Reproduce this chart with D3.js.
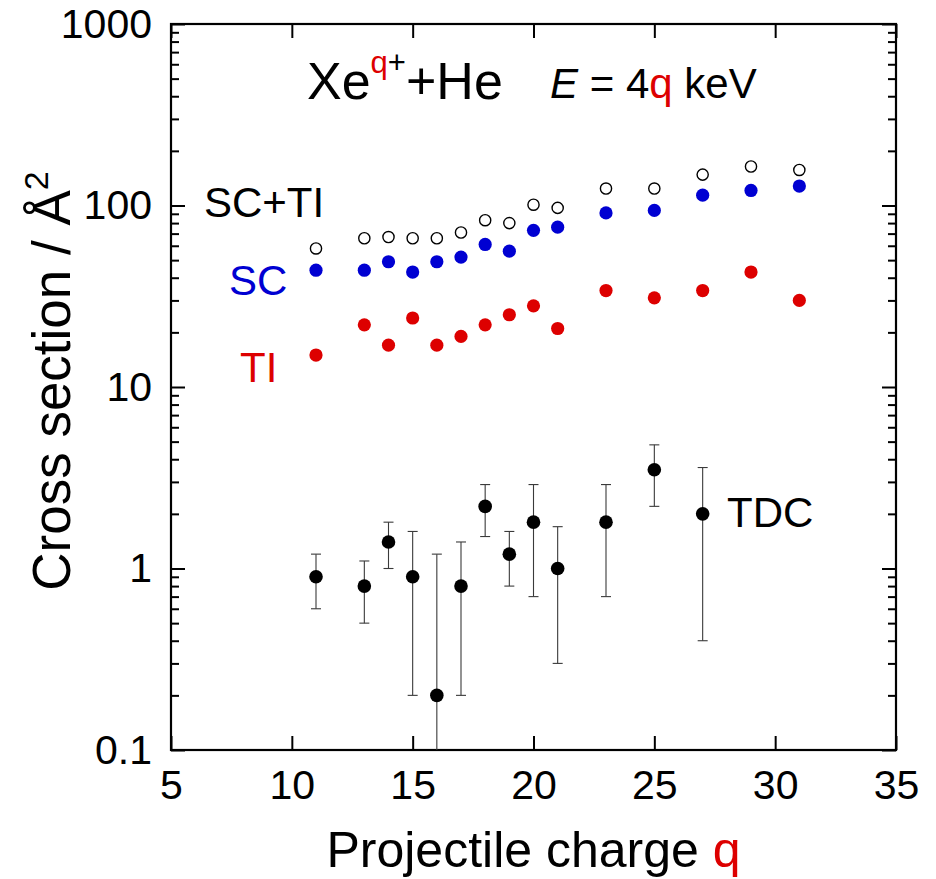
<!DOCTYPE html>
<html>
<head>
<meta charset="utf-8">
<script src="https://cdn.jsdelivr.net/npm/d3@7"></script>
<style>
  html, body { margin: 0; padding: 0; background: #fff; }
  svg text { font-family: "Liberation Sans", Arial, Helvetica, sans-serif; }
</style>
</head>
<body>
<svg id="chart" width="936" height="879"></svg>
<script>
// ---- data ----
const qValues   = [11, 13, 14, 15, 16, 17, 18, 19, 20, 21, 23, 25, 27, 29, 31];
const scPlusTi  = [58, 66, 67, 66, 66, 71, 83, 80, 101, 97, 124, 124, 148, 164, 157];
const scValues  = [44, 44, 49, 43, 49, 52, 61, 56, 73, 76, 91, 94, 114, 121, 128];
const tiValues  = [15, 22, 17, 24, 17, 19, 22, 25, 28, 21, 34, 31, 34, 43, 30];

const tdcQ      = [11, 13, 14, 15, 16, 17, 18, 19, 20, 21, 23, 25, 27];
const tdcValues = [0.9, 0.8, 1.4, 0.9, 0.2, 0.8, 2.2, 1.2, 1.8, 1.0, 1.8, 3.5, 2.0];
const tdcHigh   = [1.2, 1.1, 1.8, 1.6, 1.2, 1.4, 2.9, 1.6, 2.9, 1.7, 2.9, 4.8, 3.6];
const tdcLow    = [0.6, 0.5, 1.0, 0.2, 0.05, 0.2, 1.5, 0.8, 0.7, 0.3, 0.7, 2.2, 0.4];

const xTicks = [5, 10, 15, 20, 25, 30, 35];
const yTicks = [0.1, 1, 10, 100, 1000];
const yTickLabels = ["0.1", "1", "10", "100", "1000"];

// ---- layout ----
const svg = d3.select("#chart");
const L = 171, R = 896, T = 24, B = 750;
const x = d3.scaleLinear().domain([5, 35]).range([L, R]);
const y = d3.scaleLog().domain([0.1, 1000]).range([B, T]);

const RED = "#dd0000", BLUE = "#0000d2";

// minor y ticks
const yMinor = [];
for (let e = -1; e < 3; e++) for (let m = 2; m <= 9; m++) yMinor.push(m * Math.pow(10, e));

// clip
svg.append("clipPath").attr("id", "plotclip")
  .append("rect").attr("x", L).attr("y", T).attr("width", R - L).attr("height", B - T);

// axes
const styleAxis = g => {
  g.select(".domain").remove();
  g.selectAll(".tick line").attr("stroke", "#000").attr("stroke-width", 2);
  g.selectAll("text").attr("fill", "#000").style("font-family", '"Liberation Sans", Arial, sans-serif');
};

svg.append("g").attr("transform", `translate(0,${B})`)
  .call(d3.axisBottom(x).tickValues(xTicks).tickSize(-14).tickPadding(20).tickFormat(d3.format("d")))
  .call(styleAxis)
  .selectAll("text").style("font-size", "41px");

svg.append("g").attr("transform", `translate(0,${T})`)
  .call(d3.axisTop(x).tickValues(xTicks).tickSize(-14).tickFormat(""))
  .call(styleAxis);

svg.append("g").attr("transform", `translate(${L},0)`)
  .call(d3.axisLeft(y).tickValues(yTicks).tickSize(-14).tickPadding(19)
        .tickFormat((d, i) => yTickLabels[i]))
  .call(styleAxis)
  .selectAll("text").style("font-size", "41px");

svg.append("g").attr("transform", `translate(${L},0)`)
  .call(d3.axisLeft(y).tickValues(yMinor).tickSize(-8).tickFormat(""))
  .call(styleAxis);

svg.append("g").attr("transform", `translate(${R},0)`)
  .call(d3.axisRight(y).tickValues(yTicks).tickSize(-14).tickFormat(""))
  .call(styleAxis);

svg.append("g").attr("transform", `translate(${R},0)`)
  .call(d3.axisRight(y).tickValues(yMinor).tickSize(-8).tickFormat(""))
  .call(styleAxis);

// frame
svg.append("rect").attr("x", L).attr("y", T).attr("width", R - L).attr("height", B - T)
  .attr("fill", "none").attr("stroke", "#000").attr("stroke-width", 2.2);

// error bars
const plot = svg.append("g").attr("clip-path", "url(#plotclip)");
const eb = plot.append("g").attr("stroke", "#3a3a3a").attr("stroke-width", 1.1);
tdcQ.forEach((q, i) => {
  eb.append("line").attr("x1", x(q)).attr("x2", x(q)).attr("y1", y(tdcLow[i])).attr("y2", y(tdcHigh[i]));
  eb.append("line").attr("x1", x(q) - 5).attr("x2", x(q) + 5).attr("y1", y(tdcHigh[i])).attr("y2", y(tdcHigh[i]));
  if (y(tdcLow[i]) < B) eb.append("line").attr("x1", x(q) - 5).attr("x2", x(q) + 5).attr("y1", y(tdcLow[i])).attr("y2", y(tdcLow[i]));
});

// points
plot.append("g").selectAll("circle").data(qValues).join("circle")
  .attr("cx", d => x(d)).attr("cy", (d, i) => y(scPlusTi[i])).attr("r", 5.6)
  .attr("fill", "#fff").attr("stroke", "#000").attr("stroke-width", 1.4);
plot.append("g").selectAll("circle").data(qValues).join("circle")
  .attr("cx", d => x(d)).attr("cy", (d, i) => y(scValues[i])).attr("r", 6.6).attr("fill", BLUE);
plot.append("g").selectAll("circle").data(qValues).join("circle")
  .attr("cx", d => x(d)).attr("cy", (d, i) => y(tiValues[i])).attr("r", 6.6).attr("fill", RED);
plot.append("g").selectAll("circle").data(tdcQ).join("circle")
  .attr("cx", d => x(d)).attr("cy", (d, i) => y(tdcValues[i])).attr("r", 6.8).attr("fill", "#000");

// series labels
const lab = (t, px, py, col, size) => svg.append("text").attr("x", px).attr("y", py)
  .attr("fill", col).style("font-size", size + "px").text(t);
lab("SC+TI", 204, 217, "#000", 42);
lab("SC", 229, 295, BLUE, 42);
lab("TI", 240, 382, RED, 42);
lab("TDC", 727, 527, "#000", 42);

// title
const t1 = svg.append("text").attr("x", 307).attr("y", 99).style("font-size", "52px").attr("fill", "#000");
t1.append("tspan").text("Xe");
t1.append("tspan").attr("dy", -26).style("font-size", "31px").attr("fill", RED).text("q");
t1.append("tspan").style("font-size", "31px").text("+");
t1.append("tspan").attr("dy", 26).text("+He");

const t2 = svg.append("text").attr("x", 550).attr("y", 98).style("font-size", "42px").attr("fill", "#000");
t2.append("tspan").style("font-style", "italic").text("E");
t2.append("tspan").text(" = 4");
t2.append("tspan").attr("fill", RED).text("q");
t2.append("tspan").text(" keV");

// axis titles
const xt = svg.append("text").attr("x", (L + R) / 2).attr("y", 867).attr("text-anchor", "middle")
  .style("font-size", "50px").attr("fill", "#000");
xt.append("tspan").text("Projectile charge ");
xt.append("tspan").attr("fill", RED).text("q");

const yt = svg.append("text").attr("transform", `translate(70,${(T + B) / 2 - 6}) rotate(-90)`)
  .attr("text-anchor", "middle").style("font-size", "53px").attr("fill", "#000");
yt.append("tspan").text("Cross section / Å");
yt.append("tspan").attr("dy", -22).style("font-size", "34px").text("2");
</script>
</body>
</html>
